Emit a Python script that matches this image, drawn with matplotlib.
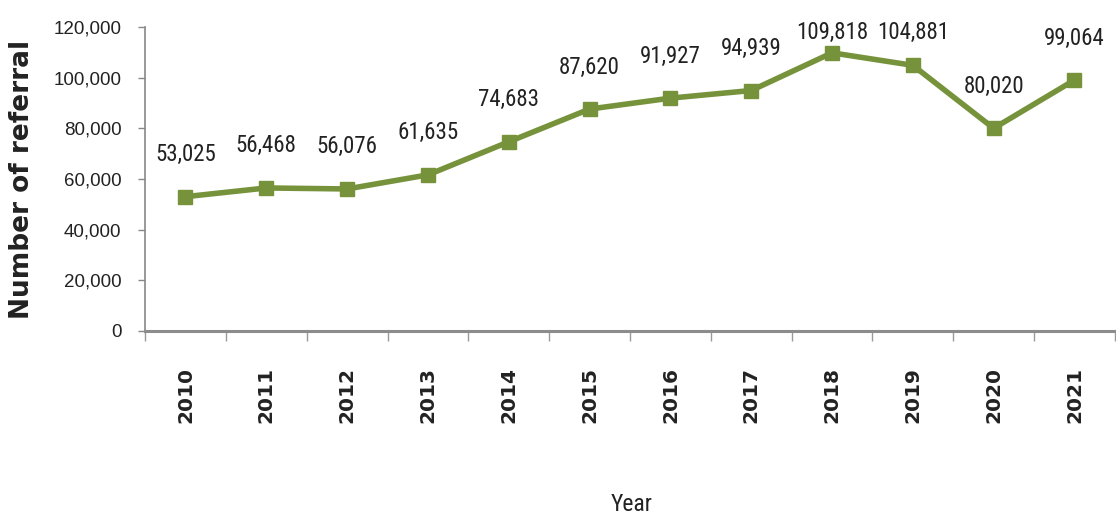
import matplotlib
matplotlib.use("Agg")
import matplotlib.pyplot as plt
from matplotlib.ticker import FuncFormatter

years = ["2010", "2011", "2012", "2013", "2014", "2015", "2016", "2017", "2018", "2019", "2020", "2021"]
referrals = [53025, 56468, 56076, 61635, 74683, 87620, 91927, 94939, 109818, 104881, 80020, 99064]

NARROW = ["Roboto Condensed", "Liberation Sans Narrow", "Liberation Sans", "DejaVu Sans"]
ARIAL = ["Liberation Sans", "DejaVu Sans"]
WIDE_BOLD = ["DejaVu Sans"]
TXT = "#222222"

fig = plt.figure(figsize=(11.16, 5.2), dpi=100)
ax = fig.add_axes([0.130, 0.3635, 0.869, 0.5845])

green = "#76933C"
x = list(range(len(years)))
ax.plot(x, referrals, color=green, linewidth=4, marker="s", markersize=10, zorder=3)

ax.set_xlim(-0.5, len(years) - 0.5)
ax.set_ylim(0, 120000)

H = 520.0
for xi, v in zip(x, referrals):
    py = ax.transData.transform((xi, v))[1]
    top_px = H - py
    off_px = min(42.0, top_px - 32.0)
    ax.annotate(f"{v:,}", (xi, v), xytext=(0, off_px * 72 / 100), textcoords="offset points",
                ha="center", va="center", fontsize=16.5, color=TXT, family=NARROW,
                stretch="condensed", annotation_clip=False)

ax.set_yticks(range(0, 120001, 20000))
ax.yaxis.set_major_formatter(FuncFormatter(lambda v, p: f"{int(v):,}"))

ax.set_xticks([i - 0.5 for i in range(len(years) + 1)], minor=False)
ax.set_xticklabels([])
ax.set_xticks(x, minor=True)
ax.set_xticklabels(years, minor=True, rotation=90, fontsize=14.5, fontweight="bold",
                   family=WIDE_BOLD, color=TXT)
ax.tick_params(axis="x", which="minor", length=0, pad=26)
ax.tick_params(axis="x", which="major", length=7, width=1, color="#999999", direction="out")
ax.tick_params(axis="y", length=5, width=1, color="#888888", pad=12)
for lab in ax.get_yticklabels():
    lab.set_fontsize(13.5)
    lab.set_family(ARIAL)
    lab.set_color(TXT)

for s in ["top", "right"]:
    ax.spines[s].set_visible(False)
ax.spines["left"].set_color("#888888")
ax.spines["bottom"].set_color("#8c8c8c")
ax.spines["bottom"].set_linewidth(2.2)
ax.spines["left"].set_linewidth(1.2)

fig.text(0.020, 0.654, "Number of referral", rotation=90, ha="center", va="center",
         fontsize=19, fontweight="bold", family=WIDE_BOLD, color=TXT)
fig.text(0.566, 0.029, "Year", ha="center", va="center", fontsize=17,
         family=NARROW, stretch="condensed", color=TXT)

fig.savefig("out.png", dpi=100, facecolor="white")
